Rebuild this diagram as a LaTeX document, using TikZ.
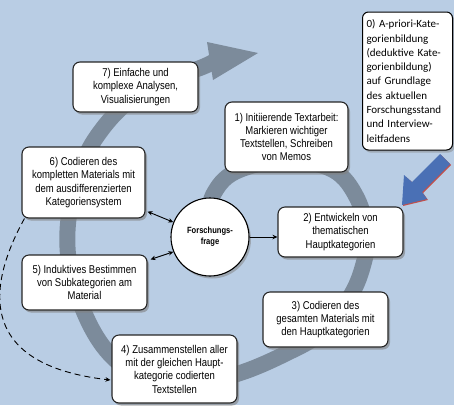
\documentclass[tikz,border=0pt]{standalone}
\usepackage{fontspec}
\setmainfont{Liberation Sans}
\newfontfamily\boxfont[FakeStretch=0.84]{Liberation Sans}
\newfontfamily\calfont{Carlito}
\usetikzlibrary{shadows,arrows.meta}
\definecolor{bg}{RGB}{185,205,228}
\definecolor{band}{RGB}{124,139,155}
\definecolor{bluearrow}{RGB}{74,112,181}
\definecolor{redshadow}{RGB}{192,80,77}
\tikzset{
  stepbox/.style={draw=black!85, line width=1.1pt, fill=white, rounded corners=7pt,
    align=center, inner sep=2pt, text=black,
    font=\boxfont\fontsize{11.3}{13.3}\selectfont,
    drop shadow={shadow xshift=2pt, shadow yshift=-2.5pt, opacity=0.6}},
  notebox/.style={draw=black, line width=1pt, fill=white, rounded corners=6pt,
    align=left, inner sep=4pt, text width=82pt,
    font=\calfont\fontsize{11}{14.3}\selectfont,
    drop shadow={shadow xshift=2pt, shadow yshift=-2.5pt, opacity=0.45}},
  conn/.style={line width=0.9pt, black},
  tip/.style={-{Stealth[length=5pt,width=4.5pt]}},
  bitip/.style={{Stealth[length=5pt,width=4.5pt]}-{Stealth[length=5pt,width=4.5pt]}},
}
\begin{document}
\begin{tikzpicture}[x=1pt,y=-1pt]
\useasboundingbox (0,0) rectangle (454,405);
\fill[bg] (0,0) rectangle (454,405);
% spiral band
\draw[band, line width=16pt] plot[smooth, tension=0.6] coordinates {
 (208,222) (213,195) (235,172) (285,160) (333,170) (357,198) (367,235) (364,262)
 (351,295) (322,332) (287,353) (237,374) (180,386) (135,373) (106,350) (84,312)
 (69,262) (69,215) (82,165) (100,132) (128,102) (165,80) (200,68) (213,62)};
\fill[band] (207,42) -- (258,53) -- (213,80) -- cycle;
% blue arrow
\fill[redshadow] (451,165) -- (441,155) -- (413,183) -- (406,177) -- (403,206) -- (428,200) -- (423,193) -- cycle;
\fill[bluearrow] (450,164) -- (440,154) -- (412,182) -- (404,175) -- (402,205) -- (427,199) -- (422,192) -- cycle;
% boxes
\node[stepbox, minimum width=125pt, minimum height=50pt] (b7) at (135.5,87) {7) Einfache und\\komplexe Analysen,\\Visualisierungen};
\node[stepbox, minimum width=123pt, minimum height=70pt] (b1) at (286.5,137) {1) Initiierende Textarbeit:\\Markieren wichtiger\\Textstellen, Schreiben\\von Memos};
\node[stepbox, minimum width=123pt, minimum height=71pt] (b6) at (83.5,182.5) {6) Codieren des\\kompletten Materials mit\\dem ausdifferenzierten\\Kategoriensystem};
\node[stepbox, minimum width=125pt, minimum height=50pt] (b2) at (340.5,232) {2) Entwickeln von\\thematischen\\Hauptkategorien};
\node[stepbox, minimum width=125pt, minimum height=55pt] (b5) at (84.5,282.5) {5) Induktives Bestimmen\\von Subkategorien am\\Material};
\node[stepbox, minimum width=125pt, minimum height=55pt] (b3) at (325.5,319.5) {3) Codieren des\\gesamten Materials mit\\den Hauptkategorien};
\node[stepbox, minimum width=125pt, minimum height=68pt] (b4) at (174.5,369) {4) Zusammenstellen aller\\mit der gleichen Haupt-\\kategorie codierten\\Textstellen};
\node[notebox, minimum height=138pt] (b0) at (407.5,81) {0) A-priori-Kate-\\gorienbildung\\(deduktive Kate-\\gorienbildung)\\auf Grundlage\\des aktuellen\\Forschungsstand\\und Interview-\\leitfadens};
% centre circle
\node[circle, draw=black, line width=1.1pt, fill=white, minimum size=78pt, align=center, inner sep=0pt,
  font=\boxfont\bfseries\fontsize{9}{11}\selectfont,
  drop shadow={shadow xshift=2pt, shadow yshift=-2.5pt, opacity=0.5}] (c) at (210,237) {Forschungs-\\frage};
% connectors
\draw[conn, tip] (c.east) -- (c.east -| b2.west);
\draw[conn, bitip] ([xshift=2pt,yshift=7pt]b6.south east) -- (c.158);
\draw[conn, bitip] ([xshift=3pt,yshift=-5pt]b5.north east) -- (c.202);
\coordinate (dstart) at ([xshift=3pt]b6.south west);
\draw[conn, tip, dash pattern=on 6pt off 4pt] (dstart) .. controls (-15,290) and (-20,365) .. ([xshift=-1pt,yshift=-11pt]b4.west);
\end{tikzpicture}
\end{document}
